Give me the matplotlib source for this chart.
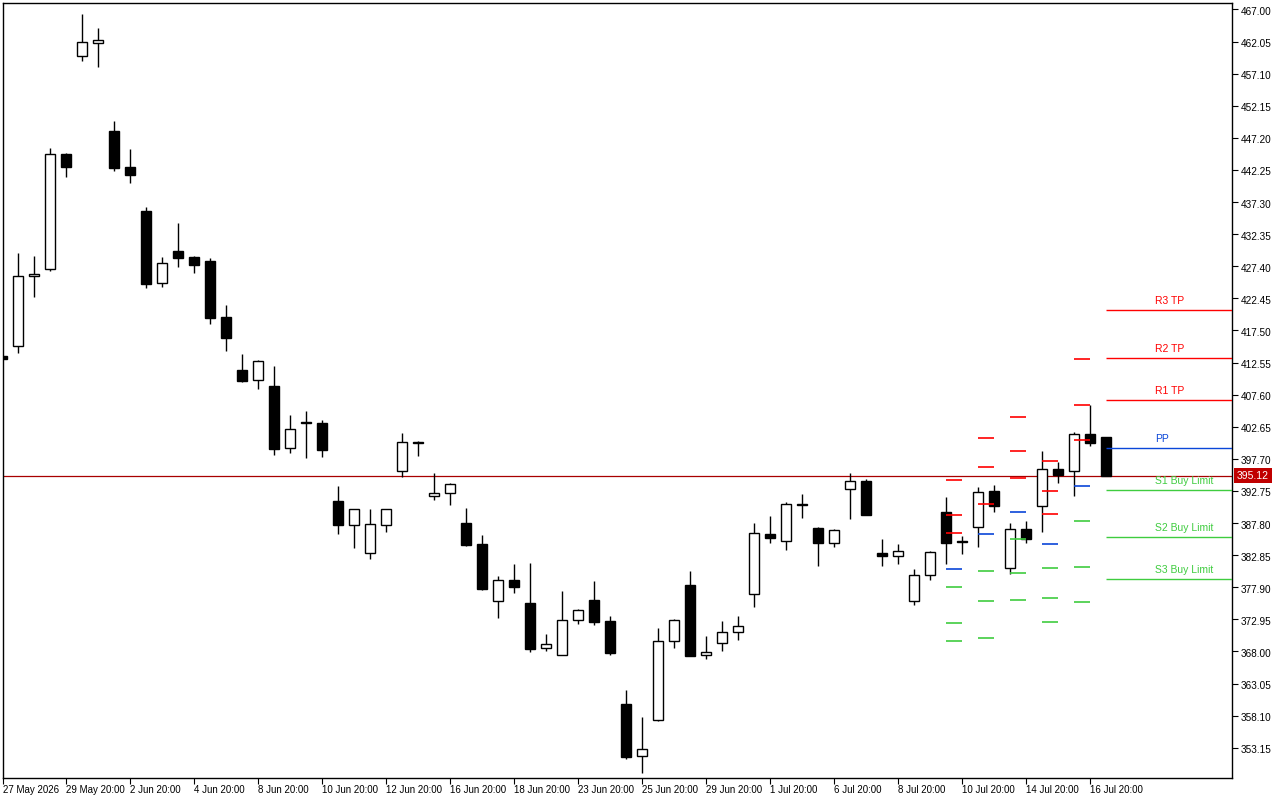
import matplotlib
matplotlib.use("Agg")
import matplotlib.pyplot as plt
from matplotlib.transforms import blended_transform_factory, ScaledTranslation

# ---------------- data ----------------
first_bar = -1  # index of the first (partially visible) bar
opens = [413.60, 415.06, 425.86, 426.94, 444.72, 459.87, 461.88, 448.26, 442.71, 435.93,
         424.87, 429.76, 428.83, 428.22, 419.58, 411.41, 409.82, 408.94, 399.33, 403.40,
         403.24, 391.21, 387.55, 383.24, 387.55, 395.79, 400.26, 391.93, 392.40, 387.77,
         384.58, 375.74, 378.98, 375.48, 368.49, 367.51, 372.81, 375.94, 372.70, 359.91,
         351.84, 357.39, 369.57, 378.21, 367.41, 369.27, 370.96, 376.82, 386.12, 384.99,
         390.75, 387.04, 384.78, 393.01, 394.29, 383.19, 382.68, 375.74, 379.75, 389.51,
         384.95, 387.15, 392.75, 380.83, 386.89, 390.39, 396.14, 395.88, 401.49, 401.08]
highs = [413.70, 429.40, 428.99, 445.64, 444.80, 466.30, 464.14, 449.80, 445.49, 436.54,
         428.83, 434.08, 428.99, 428.68, 421.43, 413.88, 412.95, 412.03, 404.47, 405.09,
         403.70, 393.52, 389.95, 389.97, 389.95, 401.69, 400.46, 395.53, 393.94, 390.13,
         385.97, 379.64, 381.49, 381.65, 370.70, 377.33, 374.55, 378.87, 373.47, 362.06,
         357.90, 371.62, 373.01, 380.41, 370.39, 372.70, 373.47, 387.82, 388.89, 391.05,
         392.29, 387.20, 386.89, 395.53, 394.60, 385.35, 384.58, 380.72, 383.45, 391.82,
         385.81, 393.32, 393.68, 387.77, 388.12, 398.92, 397.27, 401.89, 405.96, 401.10]
lows = [413.10, 414.08, 422.71, 426.60, 441.22, 459.06, 458.18, 442.14, 440.29, 424.10,
        424.25, 427.34, 426.41, 418.55, 414.38, 409.60, 408.52, 398.35, 398.66, 397.88,
        398.04, 386.17, 384.01, 382.31, 386.47, 394.96, 398.19, 391.41, 390.64, 384.32,
        377.48, 373.21, 377.07, 367.97, 368.12, 367.45, 372.29, 372.13, 367.51, 351.47,
        349.31, 357.30, 368.59, 367.30, 366.89, 368.12, 369.82, 374.91, 384.78, 383.70,
        388.63, 381.23, 384.16, 388.48, 389.05, 381.23, 381.54, 375.22, 379.07, 381.54,
        383.08, 384.16, 389.56, 379.91, 384.78, 386.38, 394.03, 392.03, 399.74, 395.12]
closes = [413.15, 425.86, 426.17, 444.72, 442.76, 461.94, 462.25, 442.60, 441.52, 424.72,
          427.86, 428.72, 427.65, 419.47, 416.39, 409.76, 412.80, 399.27, 402.26, 403.30,
          399.12, 387.55, 389.93, 387.62, 389.93, 400.31, 400.11, 392.40, 393.78, 384.47,
          377.68, 378.98, 377.99, 368.43, 369.11, 372.86, 374.40, 372.60, 367.82, 351.78,
          352.92, 369.57, 372.81, 367.35, 367.88, 370.96, 371.89, 386.23, 385.55, 390.70,
          390.65, 384.78, 386.69, 394.25, 389.10, 382.77, 383.45, 379.75, 383.30, 384.78,
          384.93, 392.55, 390.48, 386.84, 385.39, 396.10, 395.17, 401.49, 400.20, 395.12]

date_labels = ["27 May 2026", "29 May 20:00", "2 Jun 20:00", "4 Jun 20:00", "8 Jun 20:00",
               "10 Jun 20:00", "12 Jun 20:00", "16 Jun 20:00", "18 Jun 20:00", "23 Jun 20:00",
               "25 Jun 20:00", "29 Jun 20:00", "1 Jul 20:00", "6 Jul 20:00", "8 Jul 20:00",
               "10 Jul 20:00", "14 Jul 20:00", "16 Jul 20:00"]
bars_per_label = 4

price_ticks = [467.00, 462.05, 457.10, 452.15, 447.20, 442.25, 437.30, 432.35, 427.40,
               422.45, 417.50, 412.55, 407.60, 402.65, 397.70, 392.75, 387.80, 382.85,
               377.90, 372.95, 368.00, 363.05, 358.10, 353.15]
price_tick_labels = ["%.2f" % v for v in price_ticks]

# daily pivot levels drawn as short dashes (start bar of each day)
pivot_day_start = [58, 60, 62, 64, 66]
piv_r3 = [394.40, 400.88, 404.11, 397.33, 413.06]
piv_r2 = [389.00, 396.40, 398.87, 392.70, 405.96]
piv_r1 = [386.23, 390.70, 394.71, 389.16, 400.57]
piv_pp = [380.68, 386.07, 389.47, 384.53, 393.47]
piv_s1 = [377.90, 380.37, 385.30, 380.83, 388.08]
piv_s2 = [372.35, 375.74, 380.06, 376.20, 380.98]
piv_s3 = [369.57, 370.04, 375.90, 372.50, 375.59]

# current pivot levels
cur_names = ["R3 TP", "R2 TP", "R1 TP", "PP", "S1 Buy Limit", "S2 Buy Limit", "S3 Buy Limit"]
cur_values = [420.61, 413.21, 406.78, 399.33, 392.86, 385.61, 379.13]
current_price = 395.12

# ---------------- styling ----------------
RED = "#ff0000"
BLUE = "#0a46d8"
GREEN = "#3fcc3f"
LINE_RED = "#a80000"
FONT = ["Liberation Sans", "DejaVu Sans"]
plt.rcParams["font.family"] = FONT

W, H = 1280, 800
fig = plt.figure(figsize=(W / 100, H / 100), dpi=100)
ax = fig.add_axes([3 / W, 22 / H, 1229 / W, 775 / H])

n = len(opens)
xs = [first_bar + k for k in range(n)]
x_left, x_right = -0.9375, 75.875
ax.set_xlim(x_left, x_right)
ax.set_ylim(348.49, 468.0)

# wicks
ax.vlines(xs, lows, highs, color="black", linewidth=1.0, zorder=2)
# bodies
body_w = 0.66
bottoms = [min(o, c) for o, c in zip(opens, closes)]
heights = [max(abs(c - o), 0.12) for o, c in zip(opens, closes)]
faces = ["white" if c > o else "black" for o, c in zip(opens, closes)]
ax.bar(xs, heights, bottom=bottoms, width=body_w, color=faces, edgecolor="black",
       linewidth=1.0, zorder=3)

# current price line
ax.axhline(current_price, color=LINE_RED, linewidth=0.9, zorder=1)

# daily pivot dashes
groups = [(piv_r3, RED), (piv_r2, RED), (piv_r1, RED), (piv_pp, BLUE),
          (piv_s1, GREEN), (piv_s2, GREEN), (piv_s3, GREEN)]
for vals, col in groups:
    ax.hlines(vals, pivot_day_start, [s + 1 for s in pivot_day_start], colors=col,
              linewidth=1.2, zorder=4)

# current pivot lines with labels
cur_start = xs[-1]
label_x = cur_start + 3.06
cur_colors = [RED, RED, RED, BLUE, GREEN, GREEN, GREEN]
for name, val, col in zip(cur_names, cur_values, cur_colors):
    ax.hlines(val, cur_start, x_right, colors=col, linewidth=1.0, zorder=4)
    ax.annotate(name, (label_x, val), xytext=(0, 3), textcoords="offset points",
                ha="left", va="bottom", color=col, fontsize=7.5)

# axes / ticks
for sp in ax.spines.values():
    sp.set_color("black")
    sp.set_linewidth(1.0)

ax.yaxis.tick_right()
ax.set_yticks(price_ticks)
ax.set_yticklabels(price_tick_labels)
ax.tick_params(axis="y", direction="out", length=4, width=0.8, pad=2, labelsize=7.2)
shift = ScaledTranslation(0, -1.5 / 100, fig.dpi_scale_trans)
for lbl in ax.get_yticklabels():
    lbl.set_transform(lbl.get_transform() + shift)

tick_pos = [max(first_bar + bars_per_label * k, x_left + 0.001) for k in range(len(date_labels))]
ax.set_xticks(tick_pos)
ax.set_xticklabels(date_labels, ha="left")
ax.tick_params(axis="x", direction="out", length=4, width=0.8, pad=1, labelsize=7)

# current price tag on the right axis
trans = blended_transform_factory(ax.transAxes, ax.transData)
ax.text(1.0 + 5 / 1229, current_price, "%.2f" % current_price, transform=trans,
        ha="left", va="center", color="white", fontsize=7.5,
        bbox=dict(boxstyle="square,pad=0.25", facecolor="#c00000", edgecolor="none"),
        clip_on=False, zorder=10)

fig.savefig("out.png", dpi=100, facecolor="white")
